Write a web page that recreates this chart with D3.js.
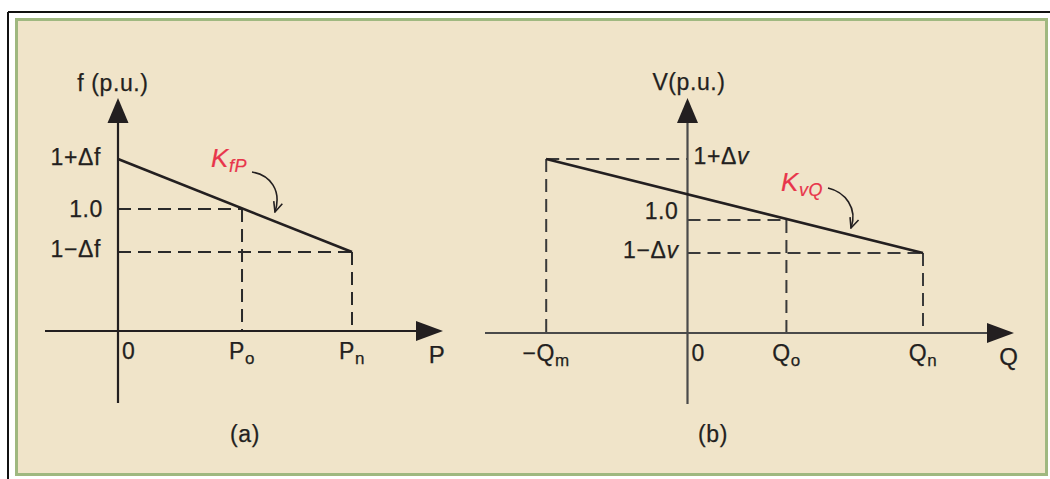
<!DOCTYPE html>
<html>
<head>
<meta charset="utf-8">
<script src="https://cdn.jsdelivr.net/npm/d3@7"></script>
<style>
  html, body { margin: 0; padding: 0; background: #ffffff; }
  svg { display: block; }
  text { font-family: "Liberation Sans", Arial, Helvetica, sans-serif; fill: #231f20;
         stroke: #231f20; stroke-width: 0.25px; letter-spacing: 0.6px; }
</style>
</head>
<body>
<svg id="chart" width="1050" height="479"></svg>
<script>
// ---- Panel (a): frequency / active-power droop ----
const pTicks = [0, 0.53, 1.0];                       // 0, Po, Pn
const pTickLabels = [["0", ""], ["P", "o"], ["P", "n"]];
const fTicks = [1.05, 1.0, 0.957];                   // 1+Δf, 1.0, 1−Δf
const fTickLabels = [["1+Δf", ""], ["1.0", ""], ["1−Δf", ""]];
const droopFP = [[0, 1.05], [1.0, 0.957]];           // (P, f) end points

// ---- Panel (b): voltage / reactive-power droop ----
const qTicks = [-0.60, 0, 0.42, 1.0];                // −Qm, 0, Qo, Qn
const qTickLabels = [["−Q", "m"], ["0", ""], ["Q", "o"], ["Q", "n"]];
const vTicks = [1.061, 1.0, 0.967];                  // 1+Δv, 1.0, 1−Δv
const vTickLabels = [["1+Δ", "v"], ["1.0", ""], ["1−Δ", "v"]];
const droopVQ = [[-0.60, 1.061], [1.0, 0.967]];      // (Q, V) end points

const svg = d3.select("#chart");
const INK = "#231f20";
const RED = "#e8354b";
const FS = 23;

// page frame
svg.append("line").attr("x1", 8).attr("y1", 12).attr("x2", 1050).attr("y2", 12)
  .attr("stroke", "#111").attr("stroke-width", 2);
svg.append("line").attr("x1", 8).attr("y1", 12).attr("x2", 8).attr("y2", 479)
  .attr("stroke", "#111").attr("stroke-width", 2);
svg.append("rect").attr("x", 16.5).attr("y", 19.5).attr("width", 1030).attr("height", 455)
  .attr("fill", "#f0e4c9").attr("stroke", "#9fb880").attr("stroke-width", 3);

// arrow marker for the annotation pointers
const defs = svg.append("defs");
defs.append("marker").attr("id", "vee")
  .attr("viewBox", "0 0 12 12").attr("refX", 11).attr("refY", 6)
  .attr("markerWidth", 12).attr("markerHeight", 12)
  .attr("markerUnits", "userSpaceOnUse").attr("orient", "auto")
  .append("path").attr("d", "M1,1.5 L11,6 L1,10.5")
  .attr("fill", "none").attr("stroke", INK).attr("stroke-width", 1.6);

function labelText(g, parts, opts) {
  const t = g.append("text")
    .attr("x", opts.x).attr("y", opts.y)
    .attr("text-anchor", opts.anchor || "start")
    .style("font-size", (opts.size || FS) + "px");
  t.append("tspan").text(parts[0]);
  if (parts[1]) {
    if (opts.subscript) {
      t.append("tspan").text(parts[1]).attr("dy", 5).style("font-size", "17px");
    } else {
      t.append("tspan").text(parts[1]).style("font-style", "italic");
    }
  }
  return t;
}

function drawPanel(cfg) {
  const g = svg.append("g");
  const { x, y, axisY, xStart, xEnd, yTop, yBottom, axisColor } = cfg;
  const ox = x(0);
  const dash = "13,7";

  // dashed guides
  cfg.guides.forEach(d => {
    g.append("line")
      .attr("x1", x(d[0][0])).attr("y1", d[0][1] === null ? axisY : y(d[0][1]))
      .attr("x2", x(d[1][0])).attr("y2", d[1][1] === null ? axisY : y(d[1][1]))
      .attr("stroke", cfg.guideColor).attr("stroke-width", 2)
      .attr("stroke-dasharray", dash);
  });

  // axes
  g.append("line").attr("x1", xStart).attr("y1", axisY).attr("x2", xEnd - 20).attr("y2", axisY)
    .attr("stroke", axisColor).attr("stroke-width", 2.2);
  g.append("line").attr("x1", ox).attr("y1", yBottom).attr("x2", ox).attr("y2", yTop + 20)
    .attr("stroke", axisColor).attr("stroke-width", 2.2);
  g.append("path")
    .attr("d", `M${xEnd},${axisY} L${xEnd - 27},${axisY - 10} L${xEnd - 27},${axisY + 10} Z`)
    .attr("fill", INK);
  g.append("path")
    .attr("d", `M${ox},${yTop} L${ox - 10.5},${yTop + 25} L${ox + 10.5},${yTop + 25} Z`)
    .attr("fill", INK);

  // droop characteristic
  g.append("path")
    .attr("d", d3.line().x(d => x(d[0])).y(d => y(d[1]))(cfg.droop))
    .attr("fill", "none").attr("stroke", INK).attr("stroke-width", 2.6);

  // x tick labels
  cfg.xTicks.forEach((v, i) => {
    const isZero = v === 0;
    labelText(g, cfg.xTickLabels[i], {
      x: isZero ? ox + 4 : x(v), y: axisY + 28,
      anchor: isZero ? "start" : "middle", subscript: true
    });
  });
  // y tick labels
  cfg.yTicks.forEach((v, i) => {
    const lp = cfg.yLabelPos[i];
    labelText(g, cfg.yTickLabels[i], {
      x: ox + lp.dx, y: y(v) + lp.dy, anchor: lp.anchor
    });
  });

  // axis titles and panel caption
  g.append("text").attr("x", cfg.yTitle.x).attr("y", cfg.yTitle.y)
    .attr("text-anchor", "middle").style("font-size", FS + "px").text(cfg.yTitle.text);
  g.append("text").attr("x", cfg.xTitle.x).attr("y", cfg.xTitle.y)
    .attr("text-anchor", "middle").style("font-size", "24px").text(cfg.xTitle.text);
  g.append("text").attr("x", cfg.caption.x).attr("y", cfg.caption.y)
    .attr("text-anchor", "middle").style("font-size", FS + "px").text(cfg.caption.text);

  // droop gain annotation
  const k = g.append("text").attr("x", cfg.gain.x).attr("y", cfg.gain.y)
    .style("font-size", "26px").style("font-style", "italic")
    .style("fill", RED).style("stroke", RED).style("stroke-width", "0.2px");
  k.append("tspan").text("K");
  k.append("tspan").text(cfg.gain.sub).attr("dy", 5).style("font-size", "18px");
  g.append("path").attr("d", cfg.gain.pointer)
    .attr("fill", "none").attr("stroke", INK).attr("stroke-width", 1.6)
    .attr("marker-end", "url(#vee)");
}

// scales
const xA = d3.scaleLinear().domain([0, 1]).range([118, 352]);
const yA = d3.scaleLinear().domain([1.0, 1.05]).range([209, 159]);
const xB = d3.scaleLinear().domain([0, 1]).range([687.5, 923]);
const yB = d3.scaleLinear().domain([1.0, 1.05]).range([220, 170]);

drawPanel({
  x: xA, y: yA, axisY: 331, xStart: 45, xEnd: 443, yTop: 98, yBottom: 403,
  axisColor: "#231f20", guideColor: "#2a2a2a",
  droop: droopFP,
  guides: [
    [[0, fTicks[1]], [pTicks[1], fTicks[1]]],
    [[0, fTicks[2]], [pTicks[2], fTicks[2]]],
    [[pTicks[1], fTicks[1]], [pTicks[1], null]],
    [[pTicks[2], fTicks[2]], [pTicks[2], null]]
  ],
  xTicks: pTicks, xTickLabels: pTickLabels,
  yTicks: fTicks, yTickLabels: fTickLabels,
  yLabelPos: [
    { dx: -17, dy: 6, anchor: "end" },
    { dx: -15, dy: 8, anchor: "end" },
    { dx: -17, dy: 5, anchor: "end" }
  ],
  yTitle: { text: "f (p.u.)", x: 113, y: 91 },
  xTitle: { text: "P", x: 437, y: 363 },
  caption: { text: "(a)", x: 245, y: 442 },
  gain: { x: 211, y: 167, sub: "fP", pointer: "M252,172 C270,175 282,190 275,212" }
});

drawPanel({
  x: xB, y: yB, axisY: 333, xStart: 485, xEnd: 1014, yTop: 98, yBottom: 404,
  axisColor: "#4a4a4a", guideColor: "#3a3a3a",
  droop: droopVQ,
  guides: [
    [[qTicks[0], vTicks[0]], [0, vTicks[0]]],
    [[0, vTicks[1]], [qTicks[2], vTicks[1]]],
    [[0, vTicks[2]], [qTicks[3], vTicks[2]]],
    [[qTicks[0], vTicks[0]], [qTicks[0], null]],
    [[qTicks[2], vTicks[1]], [qTicks[2], null]],
    [[qTicks[3], vTicks[2]], [qTicks[3], null]]
  ],
  xTicks: qTicks, xTickLabels: qTickLabels,
  yTicks: vTicks, yTickLabels: vTickLabels,
  yLabelPos: [
    { dx: 6, dy: 5, anchor: "start" },
    { dx: -9, dy: -1, anchor: "end" },
    { dx: -9, dy: 5, anchor: "end" }
  ],
  yTitle: { text: "V(p.u.)", x: 689, y: 90 },
  xTitle: { text: "Q", x: 1009, y: 365 },
  caption: { text: "(b)", x: 713, y: 442 },
  gain: { x: 781, y: 191, sub: "vQ", pointer: "M828,188 C845,192 858,208 851,228" }
});
</script>
</body>
</html>
